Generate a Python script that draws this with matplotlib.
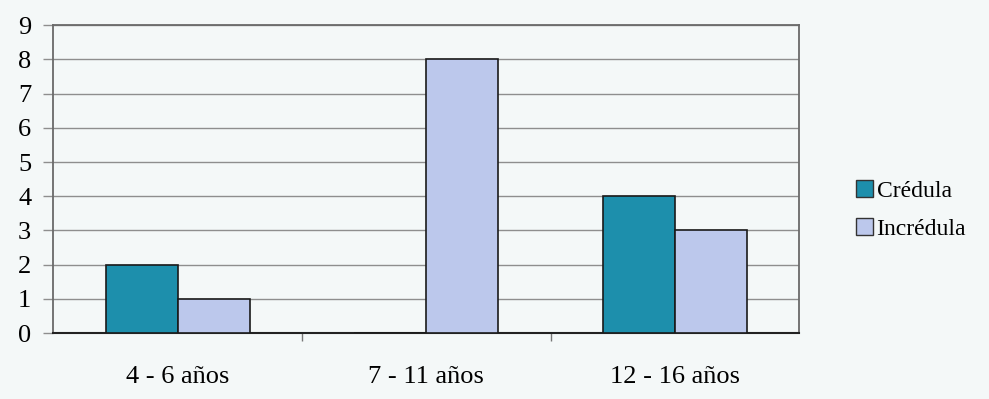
import numpy as np
import matplotlib.pyplot as plt
from matplotlib.patches import Patch

grupos = ["4 - 6 años", "7 - 11 años", "12 - 16 años"]
credula = [2, 0, 4]
incredula = [1, 8, 3]
series = ["Crédula", "Incrédula"]

col_cred = "#1d8fac"
col_incr = "#bcc8ec"
fondo = "#f4f8f8"

plt.rcParams['font.family'] = ['Liberation Serif', 'DejaVu Serif']

fig = plt.figure(figsize=(9.89, 3.99), dpi=100, facecolor=fondo)
ax = fig.add_axes([0.054, 0.165, 0.754, 0.772])
ax.set_facecolor(fondo)

x = np.arange(len(grupos))
w = 0.29
ax.bar(x - w / 2, credula, w, color=col_cred, edgecolor="#1a1a1a", linewidth=1.2, zorder=3)
ax.bar(x + w / 2, incredula, w, color=col_incr, edgecolor="#1a1a1a", linewidth=1.2, zorder=3)

ax.set_xlim(-0.5, 2.5)
ax.set_ylim(0, 9)
ax.set_yticks(range(10))
ax.yaxis.grid(True, color="#8e8e8e", linewidth=1.0, zorder=0)
ax.tick_params(axis="y", length=7, width=1.0, color="#8e8e8e", labelsize=19, pad=9)

# category labels centred, tick marks on the group boundaries
ax.set_xticks(x)
ax.set_xticklabels(grupos, fontsize=19)
ax.tick_params(axis="x", length=0, pad=24)
ax.set_xticks([0.5, 1.5], minor=True)
ax.tick_params(axis="x", which="minor", length=6, color="#777777", width=1.0)

for s in ["left", "right", "top"]:
    ax.spines[s].set_color("#6a6a6a")
    ax.spines[s].set_linewidth(1.3)
ax.spines["bottom"].set_color("#222222")
ax.spines["bottom"].set_linewidth(1.5)

handles = [Patch(facecolor=col_cred, edgecolor="#333333", label=series[0]),
           Patch(facecolor=col_incr, edgecolor="#333333", label=series[1])]
fig.legend(handles=handles, loc="center left", bbox_to_anchor=(0.866, 0.474),
           frameon=False, fontsize=17, handlelength=0.7, handleheight=0.7,
           handletextpad=0.15, labelspacing=0.7, borderpad=0, borderaxespad=0)

fig.savefig("out.png", dpi=100, facecolor=fondo)
